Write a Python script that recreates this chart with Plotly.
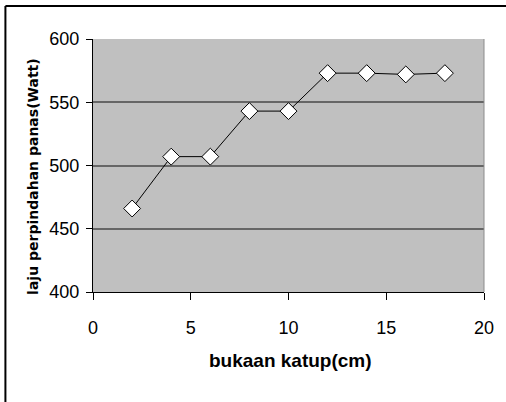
import plotly.graph_objects as go

x_vals = [2, 4, 6, 8, 10, 12, 14, 16, 18]
y_vals = [466, 507, 507, 543, 543, 573, 573, 572, 573]
x_ticks = [0, 5, 10, 15, 20]
y_ticks = [400, 450, 500, 550, 600]
x_title = "bukaan katup(cm)"
y_title = "laju perpindahan panas(Watt)"

fig = go.Figure()
fig.add_trace(go.Scatter(
    x=x_vals, y=y_vals, mode="lines+markers",
    line=dict(color="black", width=1),
    marker=dict(symbol="diamond", size=13, color="white",
                line=dict(color="black", width=1)),
    showlegend=False, hoverinfo="skip",
))

fig.update_layout(
    width=506, height=402,
    margin=dict(l=93, r=20, t=39, b=110),
    paper_bgcolor="white",
    plot_bgcolor="#C0C0C0",
    font=dict(family="Liberation Sans, Arial", color="black"),
    xaxis=dict(
        range=[0, 20], tickvals=x_ticks, ticks="outside", ticklen=7,
        tickcolor="black", tickwidth=1, showgrid=False, zeroline=False,
        showline=True, linecolor="black", linewidth=1,
        tickfont=dict(size=18), ticklabelstandoff=12,
    ),
    yaxis=dict(
        range=[400, 600], tickvals=y_ticks, ticks="outside", ticklen=6,
        tickcolor="black", tickwidth=1, showgrid=True, gridcolor="#666666",
        gridwidth=2, zeroline=False,
        showline=True, linecolor="black", linewidth=1,
        tickfont=dict(size=18), ticklabelstandoff=3,
    ),
    annotations=[
        dict(text="<b>" + x_title + "</b>", xref="paper", yref="paper",
             x=0.505, y=-0.2727, xanchor="center", yanchor="middle",
             showarrow=False, font=dict(size=19, family="Liberation Sans, Arial")),
        dict(text="<b>" + y_title + "</b>", xref="paper", yref="paper",
             x=-0.155, y=0.4565, xanchor="center", yanchor="middle", textangle=-90,
             showarrow=False, font=dict(size=14, family="DejaVu Sans")),
    ],
    shapes=[
        dict(type="line", xref="paper", yref="paper", x0=1, x1=1, y0=0, y1=1,
             line=dict(color="#8c8c8c", width=1), layer="above"),
        dict(type="line", xref="paper", yref="paper", x0=-0.224, x1=1.06, y0=1.13, y1=1.13,
             line=dict(color="black", width=2)),
        dict(type="line", xref="paper", yref="paper", x0=-0.224, x1=-0.224, y0=-0.45, y1=1.13,
             line=dict(color="black", width=2)),
    ],
)

fig.write_html("out.html")
